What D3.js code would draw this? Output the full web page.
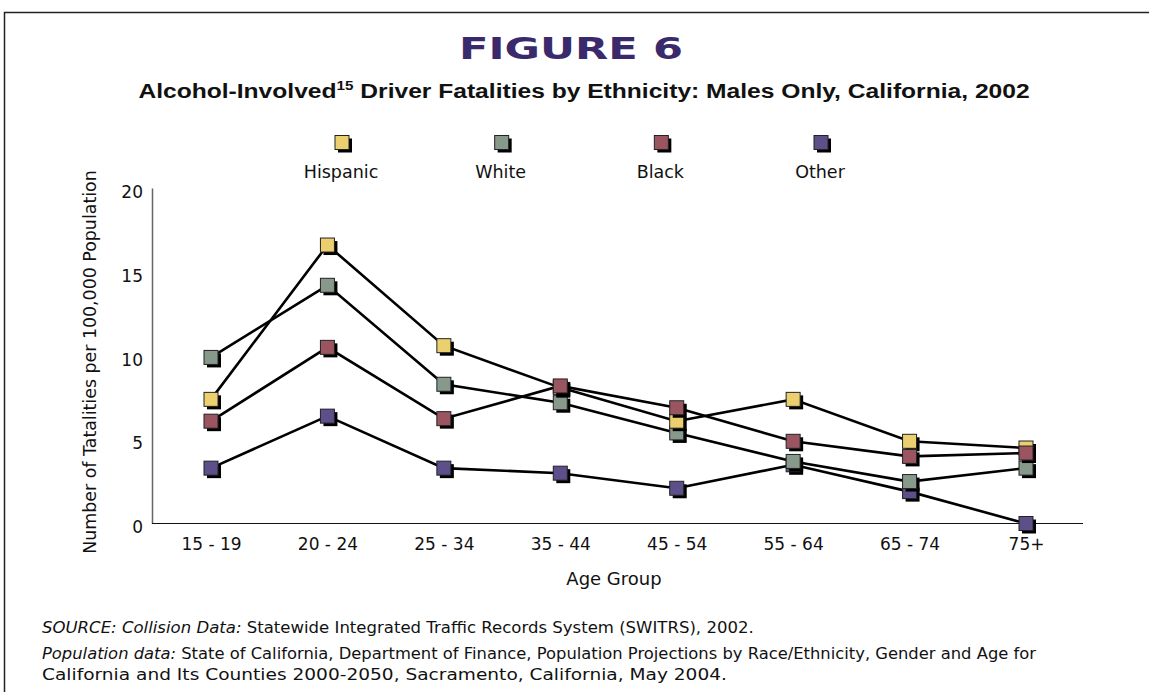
<!DOCTYPE html>
<html><head><meta charset="utf-8">
<script src="https://cdn.jsdelivr.net/npm/d3@7"></script>
<style>body{margin:0;background:#fff}svg{display:block}</style>
</head><body><svg id="c" width="1149" height="692"></svg>
<script>
const ageGroups = ["15 - 19","20 - 24","25 - 34","35 - 44","45 - 54","55 - 64","65 - 74","75+"];
const hispanic = [7.4, 16.6, 10.6, 8.1, 6.1, 7.4, 4.9, 4.5];
const white    = [9.9, 14.2, 8.3, 7.2, 5.4, 3.7, 2.5, 3.3];
const black    = [6.1, 10.5, 6.25, 8.2, 6.9, 4.9, 4.0, 4.2];
const other    = [3.3, 6.4, 3.3, 3.0, 2.1, 3.5, 1.9, 0];
const yTicks   = [0, 5, 10, 15, 20];
const seriesNames  = ["Hispanic","White","Black","Other"];
const seriesColors = ["#ecd070","#86998a","#9b5561","#5d4f89"];

const series = [
  {name:seriesNames[0], color:seriesColors[0], values:hispanic},
  {name:seriesNames[1], color:seriesColors[1], values:white},
  {name:seriesNames[2], color:seriesColors[2], values:black},
  {name:seriesNames[3], color:seriesColors[3], values:other}
];
const drawOrder = [3,1,0,2];

const svg = d3.select("#c");
const font = "'DejaVu Sans', sans-serif";

// horizontally scale a text element so it spans [x0,x1]
function fitWidth(sel, x0, x1){
  const bb = sel.node().getBBox();
  const k = (x1 - x0) / bb.width;
  sel.attr("transform", `translate(${x0},0) scale(${k},1) translate(${-bb.x},0)`);
}

// frame
svg.append("path").attr("d","M4.5,700 V12.5 H1160").attr("fill","none").attr("stroke","#222").attr("stroke-width",1.5);

const title = svg.append("text").attr("x",575).attr("y",59).attr("text-anchor","middle")
  .attr("font-family","'DejaVu Sans', sans-serif").attr("font-weight","bold").attr("font-size",30)
  .attr("fill","#3b2a6b").text("FIGURE 6");
fitWidth(title, 459, 683);

const sub = svg.append("text").attr("x",585).attr("y",98).attr("text-anchor","middle")
  .attr("font-family","'Liberation Sans', Arial, sans-serif").attr("font-weight","bold").attr("font-size",21).attr("fill","#111");
sub.append("tspan").text("Alcohol-Involved");
sub.append("tspan").attr("font-size",13).attr("dy",-8).text("15");
sub.append("tspan").attr("dy",8).text(" Driver Fatalities by Ethnicity: Males Only, California, 2002");
fitWidth(sub, 138, 1030);

const x = d3.scalePoint().domain(ageGroups).range([211, 1026]);
const y = d3.scaleLinear().domain([0,20]).range([523.5, 188]);

// axes
const yAxis = svg.append("g").attr("transform","translate(152,0)")
  .call(d3.axisLeft(y).tickValues(yTicks).tickSize(0).tickPadding(9));
yAxis.select(".domain").attr("stroke","#666").attr("stroke-width",1.5);
yAxis.selectAll("text").attr("font-family",font).attr("font-size",17).attr("fill","#111").attr("dy","0.55em");

const xScaleAxis = d3.scaleLinear().domain([0,1]).range([152,1083]);
svg.append("line").attr("x1",xScaleAxis(0)).attr("x2",xScaleAxis(1)).attr("y1",y(0)).attr("y2",y(0)).attr("stroke","#111").attr("stroke-width",1.2);
const xAxis = svg.append("g").attr("transform",`translate(0,${y(0)})`)
  .call(d3.axisBottom(x).tickSize(0).tickPadding(14));
xAxis.select(".domain").remove();
xAxis.selectAll("text").attr("font-family",font).attr("font-size",17).attr("fill","#111");

svg.append("text").attr("transform","translate(96,362) rotate(-90)").attr("text-anchor","middle")
  .attr("font-family",font).attr("font-size",17.4).attr("fill","#111").text("Number of Tatalities per 100,000 Population");
svg.append("text").attr("x",614).attr("y",585).attr("text-anchor","middle")
  .attr("font-family",font).attr("font-size",18).attr("fill","#111").text("Age Group");

// lines
const line = d3.line().x((d,i)=>x(ageGroups[i])).y(d=>y(d));
series.forEach(s=>{
  svg.append("path").attr("d",line(s.values)).attr("fill","none").attr("stroke","#000").attr("stroke-width",2.6).attr("stroke-linejoin","miter");
});

// markers
const sz = 14;
function marker(g, cx, cy, color){
  g.append("rect").attr("x",cx-sz/2+3).attr("y",cy-sz/2+3).attr("width",sz).attr("height",sz).attr("fill","#000");
  g.append("rect").attr("x",cx-sz/2).attr("y",cy-sz/2).attr("width",sz).attr("height",sz).attr("fill",color).attr("stroke","#222").attr("stroke-width",1);
}
drawOrder.forEach(k=>{
  const s = series[k];
  const g = svg.append("g");
  s.values.forEach((v,i)=>marker(g, x(ageGroups[i]), y(v), s.color));
});

// legend
const legX = d3.scalePoint().domain(seriesNames).range([342, 821]);
series.forEach(s=>{
  const g = svg.append("g");
  marker(g, legX(s.name), 142.5, s.color);
  svg.append("text").attr("x",legX(s.name)-1).attr("y",178).attr("text-anchor","middle")
    .attr("font-family",font).attr("font-size",17.5).attr("fill","#111").text(s.name);
});

// source
const src = [
  [["SOURCE: Collision Data:",true],[" Statewide Integrated Traffic Records System (SWITRS), 2002.",false]],
  [["Population data:",true],[" State of California, Department of Finance, Population Projections by Race/Ethnicity, Gender and Age for",false]],
  [["California and Its Counties 2000-2050, Sacramento, California, May 2004.",false]]
];
const srcY = [633, 659, 680];
const srcEnd = [754, 1037, 727];
src.forEach((ln,i)=>{
  const t = svg.append("text").attr("x",0).attr("y",srcY[i]).attr("font-family",font).attr("font-size",16).attr("fill","#111");
  ln.forEach(([txt,it])=>t.append("tspan").attr("font-style",it?"italic":"normal").text(txt));
  fitWidth(t, 42, srcEnd[i]);
});
</script></body></html>
